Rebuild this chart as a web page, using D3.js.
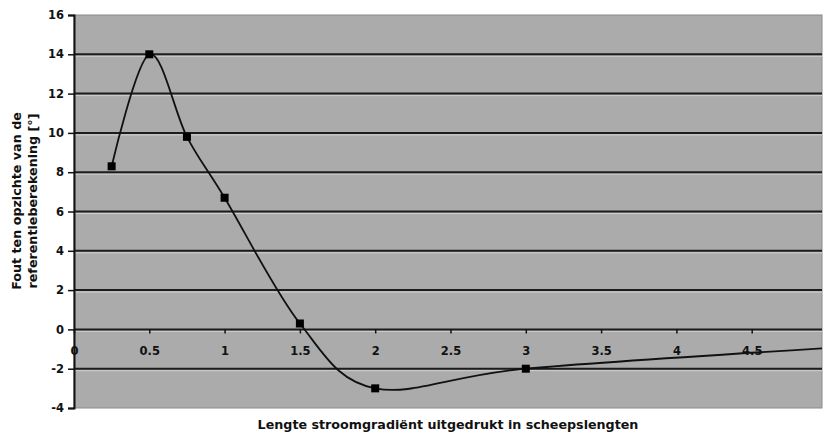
<!DOCTYPE html>
<html>
<head>
<meta charset="utf-8">
<script src="https://d3js.org/d3.v7.min.js"></script>
<style>
  body { margin: 0; background: #fff; }
  text { font-family: "DejaVu Sans", Verdana, sans-serif; font-weight: bold; fill: #111; }
</style>
</head>
<body>
<script>
// data
var lengths = [0.25, 0.5, 0.75, 1, 1.5, 2, 3, 5];
var errors  = [8.3, 14, 9.8, 6.7, 0.3, -3, -2, -0.95];
var yTicks  = [-4, -2, 0, 2, 4, 6, 8, 10, 12, 14, 16];
var xTicks  = [0, 0.5, 1, 1.5, 2, 2.5, 3, 3.5, 4, 4.5];

var W = 824, H = 441;
var plotLeft = 74, plotTop = 15, plotRight = 822, plotBottom = 408;

var svg = d3.select("body").append("svg")
    .attr("width", W).attr("height", H);

var x = d3.scaleLinear().domain([0, 5]).range([plotLeft, 827]);
var y = d3.scaleLinear().domain([-4, 16]).range([plotBottom, plotTop]);

// plot area
svg.append("rect")
    .attr("x", plotLeft).attr("y", plotTop)
    .attr("width", plotRight - plotLeft).attr("height", plotBottom - plotTop)
    .attr("fill", "#ababab")
    .attr("stroke", "#8a8a8a").attr("stroke-width", 1);

svg.append("clipPath").attr("id", "clip")
  .append("rect")
    .attr("x", plotLeft).attr("y", plotTop - 5)
    .attr("width", plotRight - plotLeft).attr("height", plotBottom - plotTop + 10);

// gridlines
var grid = svg.append("g");
yTicks.slice(1, -1).forEach(function(v) {
  grid.append("line")
      .attr("x1", plotLeft).attr("x2", plotRight)
      .attr("y1", y(v) + 2).attr("y2", y(v) + 2)
      .attr("stroke", "#cfcfcf").attr("stroke-width", 1);
  grid.append("line")
      .attr("x1", plotLeft).attr("x2", plotRight)
      .attr("y1", y(v)).attr("y2", y(v))
      .attr("stroke", "#1c1c1c").attr("stroke-width", 2);
});

var fmt = function(d) { return String(d); };  // plain hyphen minus like the original

// y axis
var yAxis = d3.axisLeft(y).tickValues(yTicks).tickSize(6).tickPadding(4).tickFormat(fmt);
var gy = svg.append("g")
    .attr("transform", "translate(" + plotLeft + ",0)")
    .call(yAxis);
gy.select(".domain").attr("stroke", "#111").attr("stroke-width", 2);
gy.selectAll(".tick line").attr("stroke", "#111").attr("stroke-width", 1.5);
gy.selectAll("text").style("font-size", "11.5px").attr("fill", "#111");

// x axis on the zero line
var xAxis = d3.axisBottom(x).tickValues(xTicks).tickSize(4).tickPadding(13)
    .tickFormat(fmt);
var gx = svg.append("g")
    .attr("transform", "translate(0," + y(0) + ")")
    .call(xAxis);
gx.select(".domain").remove();
gx.selectAll(".tick line").attr("stroke", "#111").attr("stroke-width", 1.5);
gx.selectAll("text").style("font-size", "11.5px").attr("fill", "#111");

// series
var pts = lengths.map(function(d, i) { return [d, errors[i]]; });
var line = d3.line()
    .x(function(d) { return x(d[0]); })
    .y(function(d) { return y(d[1]); })
    .curve(d3.curveCardinal.tension(0));

var plot = svg.append("g").attr("clip-path", "url(#clip)");
plot.append("path")
    .datum(pts)
    .attr("d", line)
    .attr("fill", "none")
    .attr("stroke", "#111")
    .attr("stroke-width", 1.8);

plot.selectAll(".pt")
    .data(pts.slice(0, -1))
    .enter().append("rect")
    .attr("class", "pt")
    .attr("x", function(d) { return x(d[0]) - 4; })
    .attr("y", function(d) { return y(d[1]) - 4; })
    .attr("width", 8).attr("height", 8)
    .attr("fill", "#000");

// axis titles
svg.append("text")
    .attr("x", 448).attr("y", 429)
    .attr("text-anchor", "middle")
    .style("font-size", "12.7px")
    .text("Lengte stroomgradiënt uitgedrukt in scheepslengten");

var yt = svg.append("text")
    .attr("transform", "translate(21,201) rotate(-90)")
    .attr("text-anchor", "middle")
    .style("font-size", "12.7px");
yt.append("tspan").attr("x", 0).attr("dy", 0).text("Fout ten opzichte van de");
yt.append("tspan").attr("x", 0).attr("dy", 16).text("referentieberekening [°]");
</script>
</body>
</html>
